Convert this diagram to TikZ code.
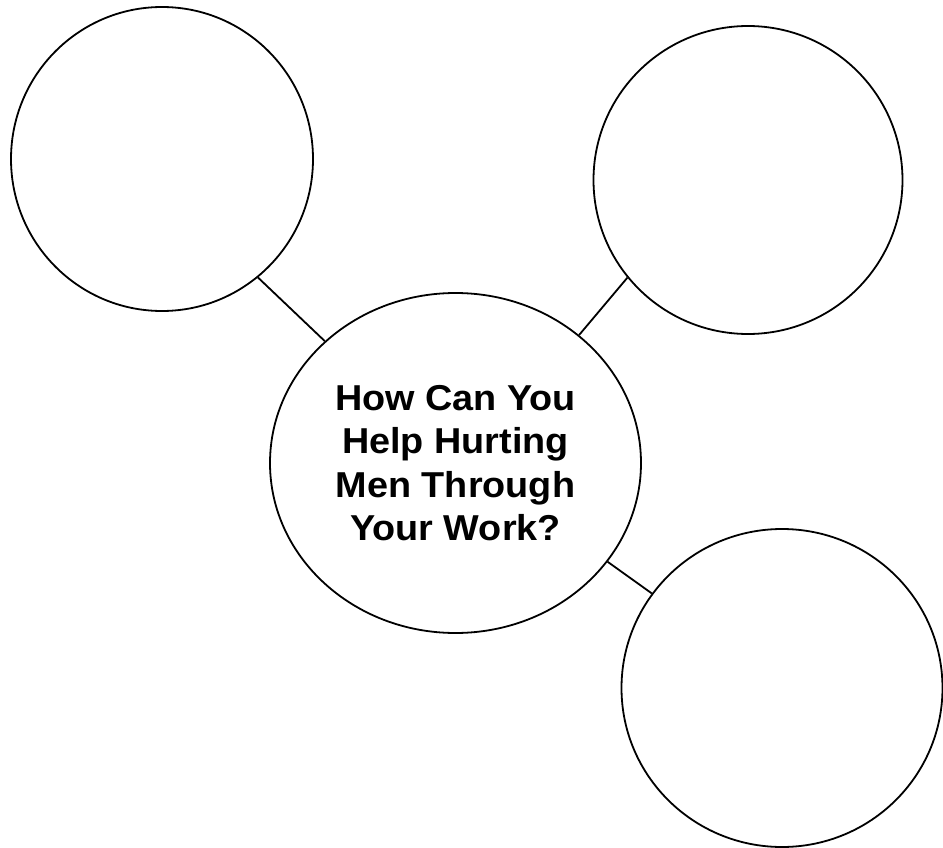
\documentclass[tikz,border=0pt]{standalone}
\usepackage{fontspec}
\setmainfont{Liberation Sans}
\newfontfamily\titlefont[FakeStretch=1.05]{Liberation Sans}
\usetikzlibrary{shapes.geometric}
\begin{document}
\begin{tikzpicture}[x=1pt,y=-1pt,
  bubble/.style={draw=black, line width=1.8pt, ellipse, inner sep=0pt, fill=white},
  link/.style={draw=black, line width=1.8pt}]
\useasboundingbox[fill=white] (0,0) rectangle (943,848);
\node[bubble, minimum width=302pt, minimum height=304pt] (tl) at (162,159) {};
\node[bubble, minimum width=309pt, minimum height=308pt] (tr) at (748,180) {};
\node[bubble, minimum width=321pt, minimum height=318pt] (br) at (782,688) {};
\node[bubble, minimum width=371pt, minimum height=340pt, align=center,
      font=\titlefont\fontsize{36}{43.5}\selectfont\bfseries] (c) at (455.5,463)
  {How Can You\\Help Hurting\\Men Through\\Your Work?};
\draw[link] (tl.-51) -- (c.137);
\draw[link] (tr.-141) -- (c.46);
\draw[link] (c.-33) -- (br.144);
\end{tikzpicture}
\end{document}
